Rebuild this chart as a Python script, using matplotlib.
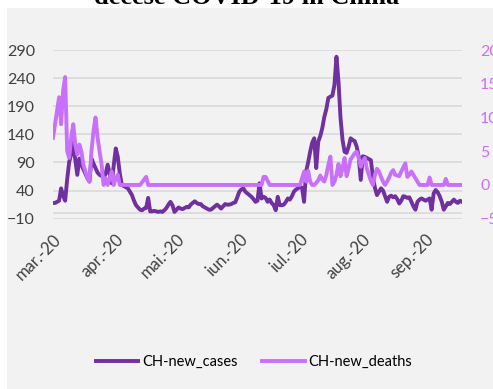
import numpy as np
import pandas as pd
import matplotlib
matplotlib.use("Agg")
import matplotlib.pyplot as plt
from matplotlib.patches import Rectangle

# daily new cases / deaths in China, from 1 March 2020
cases = [18, 18, 20, 22, 44, 31, 22, 60, 91, 105, 125, 95, 68, 97, 86, 78, 70, 62, 56, 97,
         88, 80, 72, 68, 66, 63, 70, 86, 70, 53, 85, 115, 100, 70, 50, 48, 46, 44, 38, 32,
         22, 14, 10, 6, 5, 8, 9, 27, 3, 3, 4, 3, 2, 3, 2, 5, 9, 15, 20, 14,
         2, 6, 10, 8, 7, 9, 11, 10, 15, 18, 21, 18, 16, 16, 12, 10, 8, 6, 6, 9,
         12, 15, 12, 8, 12, 16, 15, 15, 16, 18, 19, 28, 38, 42, 44, 38, 35, 32, 29, 25,
         20, 22, 53, 26, 29, 27, 20, 24, 18, 14, 5, 29, 14, 14, 15, 20, 26, 24, 30, 38,
         42, 44, 47, 45, 20, 74, 90, 109, 125, 133, 80, 127, 137, 151, 171, 185, 205, 207, 209, 228,
         278, 234, 169, 130, 109, 107, 118, 133, 130, 128, 118, 100, 59, 101, 100, 98, 96, 94, 64, 45,
         32, 38, 44, 40, 30, 20, 29, 31, 28, 30, 25, 17, 22, 30, 29, 27, 28, 20, 12, 6,
         20, 24, 26, 24, 22, 24, 26, 6, 35, 41, 37, 30, 20, 6, 12, 18, 16, 20, 24, 20,
         18, 22, 20]
deaths = [7, 9, 11, 13, 9, 14, 16, 5, 4, 7, 9, 6, 4.5, 6, 5, 3, 2, 1, 0.5, 5,
          8, 10, 7, 5, 3, 0, 1, 0, 1, 2, 0, 1, 1.5, 0, 0, 0, 0, 0, 0, 0,
          0, 0, 0, 0, 0.4, 0.8, 1.2, 0, 0, 0, 0, 0, 0, 0, 0, 0, 0, 0, 0, 0,
          0, 0, 0, 0, 0, 0, 0, 0, 0, 0, 0, 0, 0, 0, 0, 0, 0, 0, 0, 0,
          0, 0, 0, 0, 0, 0, 0, 0, 0, 0, 0, 0, 0, 0, 0, 0, 0, 0, 0, 0,
          0, 0, 0, 0, 1.2, 1.2, 0.6, 0, 0, 0, 0, 0, 0, 0, 0, 0, 0, 0, 0, 0,
          0, 0, 0, 1, 2, 0.5, 2.1, 0.5, 0, 0, 0.3, 0.7, 1.4, 0.8, 0.5, 1.5, 3, 4.2, 0, 0.5,
          1.5, 3.1, 1.3, 2.5, 4, 1.3, 2.5, 3.8, 4.2, 4.7, 4.9, 4, 2.7, 3.5, 4, 2.4, 1.5, 0.6, 0, 1.5,
          2.4, 2, 1.2, 0.5, 0, 0.5, 1.1, 1.8, 2.2, 1.5, 1.4, 1.3, 2, 2.6, 3.2, 1.2, 1.5, 2, 1.5, 1,
          0.5, 0, 0, 0, 0, 0, 1.1, 0, 0, 0, 0, 0, 0, 0, 0.9, 0, 0, 0, 0, 0,
          0, 0, 0]
dates = pd.date_range("2020-03-01", periods=len(cases), freq="D")

month_ticks = pd.date_range("2020-03-01", "2020-09-01", freq="MS")
month_labels = ["mar.-20", "apr.-20", "mai.-20", "iun.-20", "iul.-20", "aug.-20", "sep.-20"]
left_ticks = [-10, 40, 90, 140, 190, 240, 290]
right_ticks = [-5, 0, 5, 10, 15, 20]

c_cases = "#7030a0"
c_deaths = "#c870fa"
c_grid = "#d9d9d9"
c_text = "#404040"

plt.rcParams["font.family"] = ["Lato", "DejaVu Sans"]

W, H = 493, 389
fig = plt.figure(figsize=(W / 100, H / 100), dpi=100)
fig.patch.set_facecolor("white")
fig.patches.append(Rectangle((7 / W, 0), 1 - 7 / W, 1 - 8 / H, transform=fig.transFigure,
                             facecolor="#f2f2f2", edgecolor="none", zorder=-5))

fig.text(0.5, 1 - 4 / H, "decese COVID-19 in China", ha="center", va="baseline",
         fontsize=19, fontweight="bold", family="Liberation Serif", color="black")

ax = fig.add_axes([53 / W, 1 - 218.7 / H, 409 / W, 168.7 / H])
ax.set_facecolor("none")
ax.set_ylim(-10, 290)
ax.set_yticks(left_ticks)
ax.set_xlim(dates[0], dates[-1])
for t in left_ticks:
    ax.axhline(t, color=c_grid, lw=1.2, zorder=0)
ax.axhline(0, color=c_grid, lw=1.2, zorder=0)
for s in ax.spines.values():
    s.set_visible(False)
ax.tick_params(axis="both", length=0, labelcolor=c_text)
ax.tick_params(axis="y", pad=13, labelsize=11.5)
ax.set_xticks(month_ticks)
ax.set_xticklabels(month_labels, rotation=45, ha="right", rotation_mode="anchor")
ax.tick_params(axis="x", pad=9, labelsize=12)

l1, = ax.plot(dates, cases, color=c_cases, lw=2.8, solid_joinstyle="round", label="CH-new_cases")

ax2 = ax.twinx()
ax2.set_ylim(-5, 20)
ax2.set_yticks(right_ticks)
for s in ax2.spines.values():
    s.set_visible(False)
ax2.tick_params(axis="y", length=0, labelsize=11.5, labelcolor=c_deaths, pad=13)
l2, = ax2.plot(dates, deaths, color=c_deaths, lw=2.8, solid_joinstyle="round", label="CH-new_deaths")

fig.legend([l1, l2], ["CH-new_cases", "CH-new_deaths"], loc="center",
           bbox_to_anchor=(254 / W, 1 - 362 / H), ncol=2, frameon=False,
           fontsize=10.5, handlelength=2.9, handletextpad=0.25, columnspacing=1.7)

fig.savefig("out.png", dpi=100)
